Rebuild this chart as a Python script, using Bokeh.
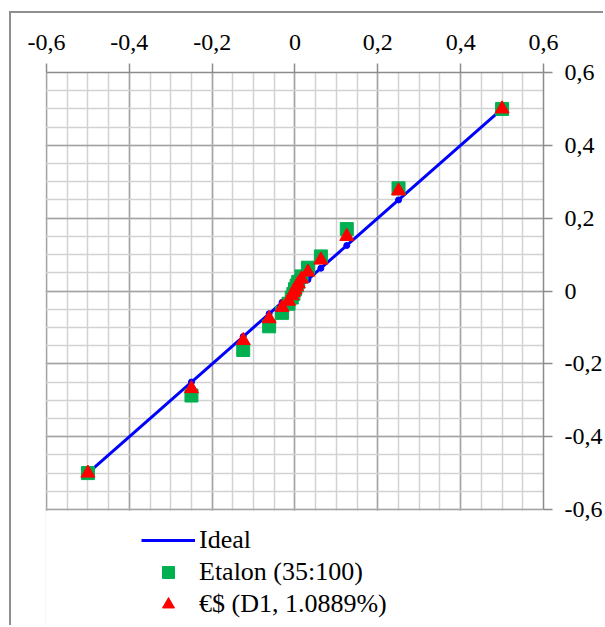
from bokeh.plotting import figure
from bokeh.models import Range1d, FixedTicker, CustomJSTickFormatter, Legend, LegendItem
from bokeh.embed import file_html
from bokeh.resources import INLINE

# ---- data ----
x_vals = [-0.5, -0.25, -0.125, -0.0625, -0.03125, -0.015625, -0.0078125, -0.00390625, 0.0,
          0.00390625, 0.0078125, 0.015625, 0.03125, 0.0625, 0.125, 0.25, 0.5]
ideal_y = [-0.5, -0.25, -0.125, -0.0625, -0.03125, -0.015625, -0.0078125, -0.00390625, 0.0,
           0.00390625, 0.0078125, 0.015625, 0.03125, 0.0625, 0.125, 0.25, 0.5]
etalon_y = [-0.5, -0.287, -0.162, -0.097, -0.06, -0.035, -0.018, -0.008, 0.005,
            0.015, 0.025, 0.04, 0.064, 0.095, 0.17, 0.282, 0.5]
euro_y = [-0.5, -0.268, -0.136, -0.076, -0.045, -0.028, -0.013, -0.004, 0.003,
          0.012, 0.02, 0.033, 0.052, 0.085, 0.15, 0.275, 0.5]

tick_values = [-0.6, -0.4, -0.2, 0.0, 0.2, 0.4, 0.6]
tick_labels = ["-0,6", "-0,4", "-0,2", "0", "0,2", "0,4", "0,6"]
minor_values = [round(-0.6 + 0.05 * i, 2) for i in range(25)]
axis_min, axis_max = -0.6, 0.6

series_names = ["Ideal", "Etalon (35:100)", "€$ (D1, 1.0889%)"]

FONT = "'Liberation Serif', 'Times New Roman', serif"

# geometry (pixels); the figure sits inside a framed box offset by (OFF_X, OFF_Y)
OFF_X, OFF_Y = 11, 13
W, H = 605 - OFF_X, 627 - OFF_Y
LEFT, TOP = 45 - OFF_X, 72 - OFF_Y
GRID_W, GRID_H = 500, 437
RIGHT, BOTTOM = W - LEFT - GRID_W - 1, 0
px_x = GRID_W / (axis_max - axis_min)
px_y = GRID_H / (axis_max - axis_min)
extra_bottom = (H - TOP - BOTTOM) - GRID_H
y_start = axis_min - extra_bottom / px_y
x_start = axis_min - 1 / px_x

p = figure(width=W, height=H, output_backend="svg", toolbar_location=None,
           x_range=Range1d(x_start, axis_max), y_range=Range1d(y_start, axis_max),
           x_axis_location="above", y_axis_location="right",
           min_border_left=LEFT, min_border_right=RIGHT, min_border_top=TOP, min_border_bottom=BOTTOM,
           background_fill_color="white", border_fill_color="white")
p.outline_line_color = None
p.styles = {"border-left": "2px solid #8f8f8f", "border-top": "2px solid #8f8f8f",
            "margin-left": "9px", "margin-top": "11px"}

ticker = FixedTicker(ticks=tick_values, minor_ticks=minor_values)
fmt = CustomJSTickFormatter(args=dict(vals=tick_values, labels=tick_labels), code="""
for (let i = 0; i < vals.length; i++) {
  if (Math.abs(vals[i] - tick) < 1e-9) return labels[i];
}
return "";
""")

for ax in (p.xaxis[0], p.yaxis[0]):
    ax.ticker = ticker
    ax.formatter = fmt
    ax.bounds = (axis_min, axis_max)
    ax.axis_line_color = "#8c8c8c"
    ax.axis_line_width = 1.5
    ax.major_tick_line_color = "#8c8c8c"
    ax.major_tick_line_width = 1.5
    ax.major_tick_in = 0
    ax.major_tick_out = 9
    ax.minor_tick_line_color = None
    ax.major_label_text_font = FONT
    ax.major_label_text_font_size = "24px"
    ax.major_label_text_color = "black"
p.xaxis[0].major_label_standoff = 14
p.yaxis[0].major_label_standoff = 12

for g in (p.xgrid[0], p.ygrid[0]):
    g.ticker = ticker
    g.grid_line_color = "#a3a3a3"
    g.grid_line_width = 1.5
    g.minor_grid_line_color = "#d2d2d2"
    g.minor_grid_line_width = 1.5

# white band below the plot area that hosts the legend (hides grid below -0.6)
p.quad(left=[axis_min - 0.2], right=[axis_max + 0.2], top=[axis_min - 1.2 / px_y], bottom=[y_start - 0.1],
       fill_color="white", line_color=None)

r_line = p.line(x_vals, ideal_y, line_color="#0000ff", line_width=3)
r_dot = p.scatter(x_vals, ideal_y, marker="circle", size=6, fill_color="#0000ff", line_color="#0000ff")
r_sq = p.scatter(x_vals, etalon_y, marker="square", size=13, fill_color="#00b050", line_color="#00b050")
r_tri = p.scatter(x_vals, euro_y, marker="triangle", size=14, fill_color="#ff0000", line_color="#ff0000")

legend = Legend(items=[
    LegendItem(label=series_names[0], renderers=[r_line]),
    LegendItem(label=series_names[1], renderers=[r_sq]),
    LegendItem(label=series_names[2], renderers=[r_tri]),
], location=(96, 8))
legend.border_line_color = None
legend.background_fill_alpha = 0
legend.padding = 0
legend.margin = 0
legend.spacing = 2
legend.glyph_width = 54
legend.glyph_height = 30
legend.label_height = 30
legend.label_standoff = 4
legend.label_text_font = FONT
legend.label_text_font_size = "26px"
legend.label_text_color = "black"
p.add_layout(legend, "center")

open("out.html", "w").write(file_html(p, INLINE))
